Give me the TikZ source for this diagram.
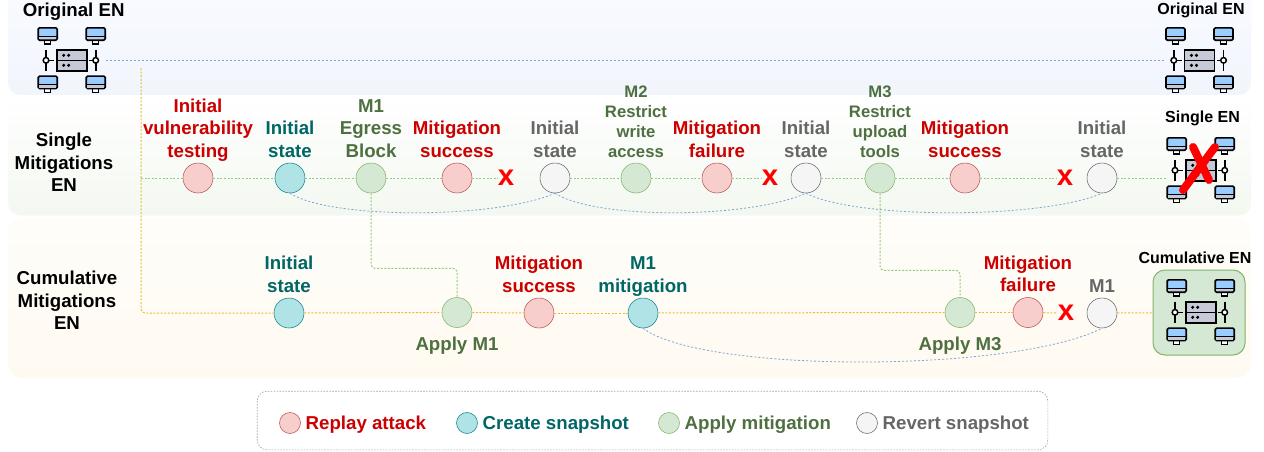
\documentclass[tikz,border=0pt]{standalone}
\usepackage{fontspec}
\setmainfont{Liberation Sans}
\usetikzlibrary{positioning}
\definecolor{replaytxt}{HTML}{CC0000}
\definecolor{snaptxt}{HTML}{006666}
\definecolor{mitigtxt}{HTML}{4E7040}
\definecolor{reverttxt}{HTML}{666666}
\definecolor{screenblue}{HTML}{99CCFF}
\definecolor{rackgray}{HTML}{C6CAD6}
\definecolor{bluelink}{HTML}{7FA3D6}
\definecolor{greenlink}{HTML}{97C97A}
\definecolor{yellowlink}{HTML}{EDBB30}
\tikzset{
      replay dot/.style={circle, inner sep=0pt, minimum size=22.5pt, fill={rgb,255:red,248;green,206;blue,204}, draw={rgb,255:red,184;green,84;blue,80}},
      snap dot/.style={circle, inner sep=0pt, minimum size=22.5pt, fill={rgb,255:red,176;green,227;blue,230}, draw={rgb,255:red,14;green,128;blue,136}},
      mitig dot/.style={circle, inner sep=0pt, minimum size=22.5pt, fill={rgb,255:red,213;green,232;blue,212}, draw={rgb,255:red,130;green,179;blue,102}},
      revert dot/.style={circle, inner sep=0pt, minimum size=22.5pt, fill={rgb,255:red,245;green,245;blue,245}, draw={rgb,255:red,102;green,102;blue,102}},
      small dot/.style={minimum size=15.75pt},
      % labels over the dots
      big label/.style={align=center, inner sep=0pt, text depth=3.75pt, font=\fontsize{14}{17}\selectfont\bfseries},
      mid label/.style={align=center, inner sep=0pt, text depth=3.75pt, font=\fontsize{12.5}{15}\selectfont\bfseries},
      en label/.style={inner sep=0pt, font=\fontsize{12}{14}\selectfont\bfseries},
      fail mark/.style={inner sep=0pt, text=red, font=\fontsize{22}{22}\selectfont\bfseries},
      icon/.style={inner sep=0pt},
      blue link/.style={draw=bluelink, line width=.6pt, dash pattern=on 1.5pt off 1.5pt},
      green link/.style={draw=greenlink, line width=.75pt, dash pattern=on 1.5pt off 1.2pt},
      yellow link/.style={draw=yellowlink, line width=.75pt, dash pattern=on 1.5pt off 1.2pt},
  	}
\newcommand{\enicon}{\tikz[x=.75pt,y=-.75pt]{
    \foreach \cx/\ty in {-24/-33.3, 24/-33.3, -24/15, 24/15}{
      \draw[line width=1pt, fill=white] (\cx-3,\ty+12) rectangle (\cx+3,\ty+17);
      \draw[line width=1.2pt, fill=screenblue, rounded corners=1pt] (\cx-9.5,\ty+.8) rectangle (\cx+9.5,\ty+13.2);
      \fill[rackgray] (\cx-8.6,\ty+10) rectangle (\cx+8.6,\ty+12.3);
      \draw[line width=.8pt] (\cx-9.5,\ty+9.6) -- (\cx+9.5,\ty+9.6);
    }
    \draw[line width=1.2pt, fill=rackgray] (-15,-10.5) rectangle (15,10.5);
    \draw[line width=1.1pt] (-15,0) -- (15,0);
    \foreach \dx in {-8,-3}{
      \fill (\dx,-5) circle (1.7);
      \fill (\dx,5) circle (1.7);
    }
    \draw[line width=1.2pt] (-25.7,-10.5) -- (-25.7,10.5) (-25.7,0) -- (-18,0);
    \draw[line width=1.2pt] (24,-10.5) -- (24,10.5) (24,0) -- (17,0);
    \draw[line width=1.1pt, fill=white] (-25.7,0) circle (2.8);
    \draw[line width=1.1pt, fill=white] (24,0) circle (2.8);
}}

\begin{document}
\begin{tikzpicture}[x=.75pt, y=-.75pt]
    \useasboundingbox (0,0) rectangle (1264,451);
    % the three bands
    \shade[top color={rgb,255:red,248;green,250;blue,255}, bottom color={rgb,255:red,241;green,245;blue,252}]
        (8,0) -- (1251,0) [rounded corners=9pt] -- (1251,95) -- (8,95) [sharp corners] -- cycle;
    \shade[top color=white, bottom color={rgb,255:red,243;green,248;blue,240}]
        (8,95) -- (1251,95) [rounded corners=9pt] -- (1251,215.5) -- (8,215.5) [sharp corners] -- cycle;
    \shade[top color={rgb,255:red,254;green,253;blue,249}, bottom color={rgb,255:red,255;green,250;blue,241}, rounded corners=11pt]
        (8,218) rectangle (1251,378);

    \node [big label] (title0) at (73.7,12.5) {Original EN};
    \node [icon] (orig0) at (71.7,60) {\enicon};
    \node [en label] (title1) at (1201,10) {Original EN};
    \node [icon] (orig1) at (1199.5,60) {\enicon};
    \node [en label] (title2) at (1202.5,118) {Single EN};
    \node [icon] (single) at (1200.7,170) {\enicon};
    \node [draw={rgb,255:red,130;green,179;blue,102}, fill={rgb,255:red,213;green,232;blue,212}, line width=.75pt, rounded corners=9pt, minimum width=69pt, minimum height=63.75pt, inner sep=0pt] (cumbox) at (1199,312.5) {};
    \node [icon] (cum) at (1200.7,312) {\enicon};
    \node [en label] (title3) at (1195,258) {Cumulative EN};
    \node [big label] (rowA) at (64,165) {Single\\Mitigations\\EN};
    \node [big label] (rowB) at (67,303) {Cumulative\\Mitigations\\EN};

    % single mitigations row
    \node [replay dot] (s1) at (198,178) {};
    \node [snap dot] (s2) at (290,178) {};
    \node [mitig dot] (s3) at (371,178) {};
    \node [replay dot] (s4) at (457,178) {};
    \node [fail mark] (x1) at (506,178) {x};
    \node [revert dot] (s5) at (555,178) {};
    \node [mitig dot] (s6) at (636,178) {};
    \node [replay dot] (s7) at (717,178) {};
    \node [fail mark] (x2) at (770,178) {x};
    \node [revert dot] (s8) at (806,178) {};
    \node [mitig dot] (s9) at (880,178) {};
    \node [replay dot] (s10) at (965,178) {};
    \node [fail mark] (x3) at (1065,178) {x};
    \node [revert dot] (s11) at (1102,178) {};

    \node [big label, text=replaytxt, above=0pt of s1] {Initial\\vulnerability\\testing};
    \node [big label, text=snaptxt, above=0pt of s2] {Initial\\state};
    \node [big label, text=mitigtxt, above=0pt of s3] {M1\\Egress\\Block};
    \node [big label, text=replaytxt, above=0pt of s4] {Mitigation\\success};
    \node [big label, text=reverttxt, above=0pt of s5] {Initial\\state};
    \node [mid label, text=mitigtxt, above=0pt of s6] {M2\\Restrict\\write\\access};
    \node [big label, text=replaytxt, above=0pt of s7] {Mitigation\\failure};
    \node [big label, text=reverttxt, above=0pt of s8] {Initial\\state};
    \node [mid label, text=mitigtxt, above=0pt of s9] {M3\\Restrict\\upload\\tools};
    \node [big label, text=replaytxt, above=0pt of s10] {Mitigation\\success};
    \node [big label, text=reverttxt, above=0pt of s11] {Initial\\state};

    % cumulative row
    \node [snap dot] (c1) at (289,313) {};
    \node [mitig dot] (c2) at (457,312.5) {};
    \node [replay dot] (c3) at (539,313) {};
    \node [snap dot] (c4) at (643,313) {};
    \node [mitig dot] (c5) at (960,312.5) {};
    \node [replay dot] (c6) at (1028,312.5) {};
    \node [fail mark] (x4) at (1066,313) {x};
    \node [revert dot] (c7) at (1102,313) {};

    \node [big label, text=snaptxt, above=0pt of c1] {Initial\\state};
    \node [big label, text=mitigtxt, below=6.5pt of c2] {Apply M1};
    \node [big label, text=replaytxt, above=0pt of c3] {Mitigation\\success};
    \node [big label, text=snaptxt, above=0pt of c4] {M1\\mitigation};
    \node [big label, text=mitigtxt, below=6.5pt of c5] {Apply M3};
    \node [big label, text=replaytxt, above=0pt of c6] {Mitigation\\failure};
    \node [big label, text=reverttxt, above=0pt of c7] {M1};

    \coordinate (tee0) at (141,68);
    \coordinate (tee1) at (141,178);
    \coordinate (tee2) at (141,313);

    \draw[blue link] (orig0) -- (orig1);
    \draw[yellow link, rounded corners=3pt] (tee0) -- (tee2) -- (c1);
    \foreach \a/\b in {tee1/s1, s1/s2, s2/s3, s3/s4, s4/x1, s5/s6, s6/s7, s7/x2, s8/s9, s9/s10, s10/x3}
        \draw[green link] (\a) -- (\b);
    \draw[green link] (s11) -- (single.west |- s11);
    \foreach \a/\b in {c1/c2, c2/c3, c3/c4, c4/c5, c5/c6, c6/x4, c7/cumbox}
        \draw[yellow link] (\a) -- (\b);
    \draw[green link, rounded corners=3pt] (s3.south) -- ++(0,75) -| (c2.north);
    \draw[green link, rounded corners=3pt] (s9.south) -- ++(0,77) -| (c5.north);
    \draw[blue link] (s2.south) .. controls +(40,26) and +(-60,26) .. (s5.south);
    \draw[blue link] (s5.south) .. controls +(40,26) and +(-60,26) .. (s8.south);
    \draw[blue link] (s8.south) .. controls +(50,26) and +(-60,26) .. (s11.south);
    \draw[blue link] (c4.south) .. controls +(60,45) and +(-90,45) .. (c7.south);

    % cross on the single EN icon
    \draw[red, line width=6pt, line cap=round] (1183,190) -- (1215,147);
    \draw[red, line width=6pt, line cap=round] (1193,147) -- (1209,180);

    % legend
    \node [draw=gray!70, dash pattern=on 1.2pt off 1pt, line width=.5pt, rounded corners=7.5pt, minimum width=593pt, minimum height=44pt, inner sep=0pt] (legend) at (652.5,420.5) {};
    \node [replay dot, small dot] (l1) at (290,423) {};
    \node [big label, text depth=0pt, text=replaytxt, right=3.5pt of l1] (t1) {Replay attack};
    \node [snap dot, small dot] (l2) at (467,423) {};
    \node [big label, text depth=0pt, text=snaptxt, right=3.5pt of l2] (t2) {Create snapshot};
    \node [mitig dot, small dot] (l3) at (669,423) {};
    \node [big label, text depth=0pt, text=mitigtxt, right=3.5pt of l3] (t3) {Apply mitigation};
    \node [revert dot, small dot] (l4) at (867,423) {};
    \node [big label, text depth=0pt, text=reverttxt, right=3.5pt of l4] (t4) {Revert snapshot};
\end{tikzpicture}
\end{document}
